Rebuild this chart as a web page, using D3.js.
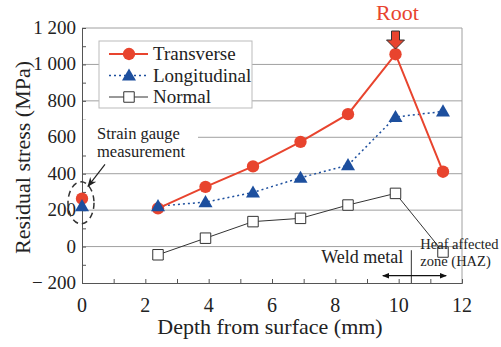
<!DOCTYPE html>
<html>
<head>
<meta charset="utf-8">
<script src="https://cdn.jsdelivr.net/npm/d3@7"></script>
<style>
  body { margin: 0; background: #fff; }
</style>
</head>
<body>
<div id="chart"></div>
<script>
// depth (mm) and residual stress (MPa)
const depths = [2.4, 3.9, 5.4, 6.9, 8.4, 9.9, 11.4];
const transverse = [210, 328, 440, 575, 727, 1056, 411];
const longitudinal = [222, 244, 297, 378, 447, 711, 742];
const normal = [-45, 46, 137, 155, 228, 292, -30];
// strain gauge measurement at the surface
const gaugeDepth = [0];
const gaugeTransverse = [263];
const gaugeLongitudinal = [222];

const xTicks = [0, 2, 4, 6, 8, 10, 12];
const yTicks = [-200, 0, 200, 400, 600, 800, 1000, 1200];
const yTickLabels = ["\u2212 200", "0", "200", "400", "600", "800", "1 000", "1 200"];

const W = 501, H = 347;
const margin = { top: 28, right: 39, bottom: 64, left: 82 };
const width = W - margin.left - margin.right;
const height = H - margin.top - margin.bottom;

const red = "#e8442e", blue = "#1d4f9e", grid = "#a0a0a0";
const serif = "'Liberation Serif', 'Times New Roman', 'DejaVu Serif', serif";

const svg = d3.select("#chart").append("svg")
  .attr("width", W).attr("height", H)
  .attr("font-family", serif);
const g = svg.append("g")
  .attr("transform", "translate(" + margin.left + "," + margin.top + ")");

const x = d3.scaleLinear().domain([0, 12]).range([0, width]);
const y = d3.scaleLinear().domain([-200, 1200]).range([height, 0]);

// gridlines
g.selectAll(".grid").data(yTicks.slice(1)).enter().append("line")
  .attr("x1", 0).attr("x2", width)
  .attr("y1", d => y(d)).attr("y2", d => y(d))
  .attr("stroke", grid).attr("stroke-width", 1);
g.append("line").attr("x1", width).attr("x2", width).attr("y1", 0).attr("y2", height)
  .attr("stroke", grid);

// axes with inward minor ticks
const xAxis = g.append("g").attr("transform", "translate(0," + height + ")")
  .call(d3.axisBottom(x).tickValues(d3.range(0, 13, 1)).tickSize(-4).tickFormat(""));
const yAxis = g.append("g")
  .call(d3.axisLeft(y).tickValues(d3.range(-200, 1201, 100)).tickSize(-4).tickFormat(""));
[xAxis, yAxis].forEach(a => {
  a.select(".domain").attr("stroke", "#555");
  a.selectAll(".tick line").attr("stroke", "#555");
});

g.selectAll(".xl").data(xTicks).enter().append("text")
  .attr("x", d => x(d)).attr("y", height + 29)
  .attr("text-anchor", "middle").attr("font-size", 20).attr("fill", "#222")
  .attr("font-family", serif)
  .text(d => d);
g.selectAll(".yl").data(yTicks).enter().append("text")
  .attr("x", -6).attr("y", d => y(d) + 6)
  .attr("text-anchor", "end").attr("font-size", 19).attr("fill", "#222")
  .attr("font-family", serif)
  .text((d, i) => yTickLabels[i]);

// axis titles
svg.append("text")
  .attr("x", margin.left + width / 2 - 2).attr("y", 334)
  .attr("text-anchor", "middle").attr("font-size", 22).attr("fill", "#222")
  .attr("font-family", serif)
  .text("Depth from surface (mm)");
svg.append("text")
  .attr("transform", "translate(30," + (margin.top + height / 2 + 2) + ") rotate(-90)")
  .attr("text-anchor", "middle").attr("font-size", 22).attr("fill", "#222")
  .attr("font-family", serif)
  .text("Residual stress (MPa)");

// strain gauge note (white backing hides the 600 gridline)
g.append("rect").attr("x", 1).attr("y", y(600) - 18).attr("width", 115).attr("height", 32)
  .attr("fill", "#fff");
g.append("text").attr("x", 15).attr("y", y(600) + 2).attr("font-size", 16.5).attr("fill", "#222")
  .attr("font-family", serif)
  .text("Strain gauge");
g.append("text").attr("x", 15).attr("y", y(600) + 20).attr("font-size", 16.5).attr("fill", "#222")
  .attr("font-family", serif)
  .text("measurement");

// legend
const lg = g.append("g").attr("transform", "translate(17,13)");
lg.append("rect").attr("width", 153).attr("height", 67)
  .attr("fill", "#fff").attr("stroke", "#bbb");
const legendItems = [
  { name: "Transverse", color: red, dash: null, w: 2, shape: "circle" },
  { name: "Longitudinal", color: blue, dash: "2,3", w: 1.5, shape: "triangle" },
  { name: "Normal", color: "#333", dash: null, w: 1, shape: "square" }
];

const sym = { circle: d3.symbolCircle, triangle: d3.symbolTriangle, square: d3.symbolSquare };
const symSize = { circle: 120, triangle: 85, square: 110 };
function drawMarker(sel, shape) {
  sel.attr("d", d3.symbol().type(sym[shape]).size(symSize[shape]))
    .attr("fill", shape === "circle" ? red : shape === "triangle" ? blue : "#fff")
    .attr("stroke", shape === "square" ? "#333" : "none")
    .attr("stroke-width", 1);
}

legendItems.forEach((it, i) => {
  const yy = 13 + i * 21.5;
  lg.append("line").attr("x1", 10).attr("x2", 49).attr("y1", yy).attr("y2", yy)
    .attr("stroke", it.color).attr("stroke-width", it.w).attr("stroke-dasharray", it.dash);
  lg.append("path").attr("transform", "translate(30," + (yy + (it.shape === "triangle" ? 1 : 0)) + ")")
    .call(drawMarker, it.shape);
  lg.append("text").attr("x", 54).attr("y", yy + 6).attr("font-size", 19).attr("fill", "#222")
    .attr("font-family", serif)
    .text(it.name);
});

// series lines
const line = (vals) => d3.line().x((d, i) => x(depths[i])).y(d => y(d))(vals);
g.append("path").attr("d", line(normal)).attr("fill", "none").attr("stroke", "#333").attr("stroke-width", 1);
g.append("path").attr("d", line(longitudinal)).attr("fill", "none").attr("stroke", blue)
  .attr("stroke-width", 1.5).attr("stroke-dasharray", "2,3");
g.append("path").attr("d", line(transverse)).attr("fill", "none").attr("stroke", red).attr("stroke-width", 2);

// markers
g.selectAll(".sq").data(normal).enter().append("path")
  .attr("transform", (d, i) => "translate(" + x(depths[i]) + "," + y(d) + ")")
  .call(drawMarker, "square");
g.selectAll(".ci").data(transverse).enter().append("path")
  .attr("transform", (d, i) => "translate(" + x(depths[i]) + "," + y(d) + ")")
  .call(drawMarker, "circle");
g.selectAll(".tr").data(longitudinal).enter().append("path")
  .attr("transform", (d, i) => "translate(" + x(depths[i]) + "," + (y(d) + 1) + ")")
  .call(drawMarker, "triangle");
g.selectAll(".gc").data(gaugeTransverse).enter().append("path")
  .attr("transform", (d, i) => "translate(" + x(gaugeDepth[i]) + "," + y(d) + ")")
  .call(drawMarker, "circle");
g.selectAll(".gt").data(gaugeLongitudinal).enter().append("path")
  .attr("transform", (d, i) => "translate(" + x(gaugeDepth[i]) + "," + (y(d) + 1) + ")")
  .call(drawMarker, "triangle");

// dashed ellipse around gauge points and pointer arrow
svg.append("defs").append("marker").attr("id", "ah")
  .attr("viewBox", "0 0 10 10").attr("refX", 9).attr("refY", 5)
  .attr("markerWidth", 8).attr("markerHeight", 8).attr("orient", "auto")
  .append("path").attr("d", "M0,1 L10,5 L0,9 L3,5 Z").attr("fill", "#222");
g.append("ellipse").attr("cx", x(0) - 1).attr("cy", y(240)).attr("rx", 13).attr("ry", 21)
  .attr("fill", "none").attr("stroke", "#333").attr("stroke-width", 1.5).attr("stroke-dasharray", "6,4");
g.append("line").attr("x1", 23).attr("y1", y(600) + 27).attr("x2", 6).attr("y2", y(600) + 49)
  .attr("stroke", "#222").attr("stroke-width", 1.2).attr("marker-end", "url(#ah)");

// root marker
const rootX = x(depths[5]);
g.append("text").attr("x", rootX + 2).attr("y", -8).attr("text-anchor", "middle")
  .attr("font-size", 22).attr("fill", red).attr("font-family", serif).text("Root");
g.append("path")
  .attr("d", "M" + (rootX - 4) + ",3 h8 v9 h5 l-9,9 l-9,-9 h5 z")
  .attr("fill", red).attr("stroke", "#333").attr("stroke-width", 1);

// weld metal / HAZ annotation
const divX = x(10.4);
g.append("line").attr("x1", divX).attr("x2", divX).attr("y1", y(-20)).attr("y2", height)
  .attr("stroke", "#333").attr("stroke-width", 1);
svg.append("defs").append("marker").attr("id", "ah2")
  .attr("viewBox", "0 0 10 10").attr("refX", 9).attr("refY", 5)
  .attr("markerWidth", 6).attr("markerHeight", 6).attr("orient", "auto-start-reverse")
  .append("path").attr("d", "M0,1 L10,5 L0,9 Z").attr("fill", "#111");
g.append("line").attr("x1", x(9.5)).attr("x2", x(11.5)).attr("y1", y(-160)).attr("y2", y(-160))
  .attr("stroke", "#111").attr("stroke-width", 1.2)
  .attr("marker-start", "url(#ah2)").attr("marker-end", "url(#ah2)");
g.append("text").attr("x", divX - 8).attr("y", y(-90)).attr("text-anchor", "end")
  .attr("font-size", 18).attr("fill", "#222").attr("font-family", serif).text("Weld metal");
g.append("text").attr("x", divX + 9).attr("y", y(-15)).attr("font-size", 14.5).attr("fill", "#222")
  .attr("font-family", serif).text("Heaf affected");
g.append("text").attr("x", divX + 9).attr("y", y(-105)).attr("font-size", 14.5).attr("fill", "#222")
  .attr("font-family", serif).text("zone (HAZ)");
</script>
</body>
</html>
